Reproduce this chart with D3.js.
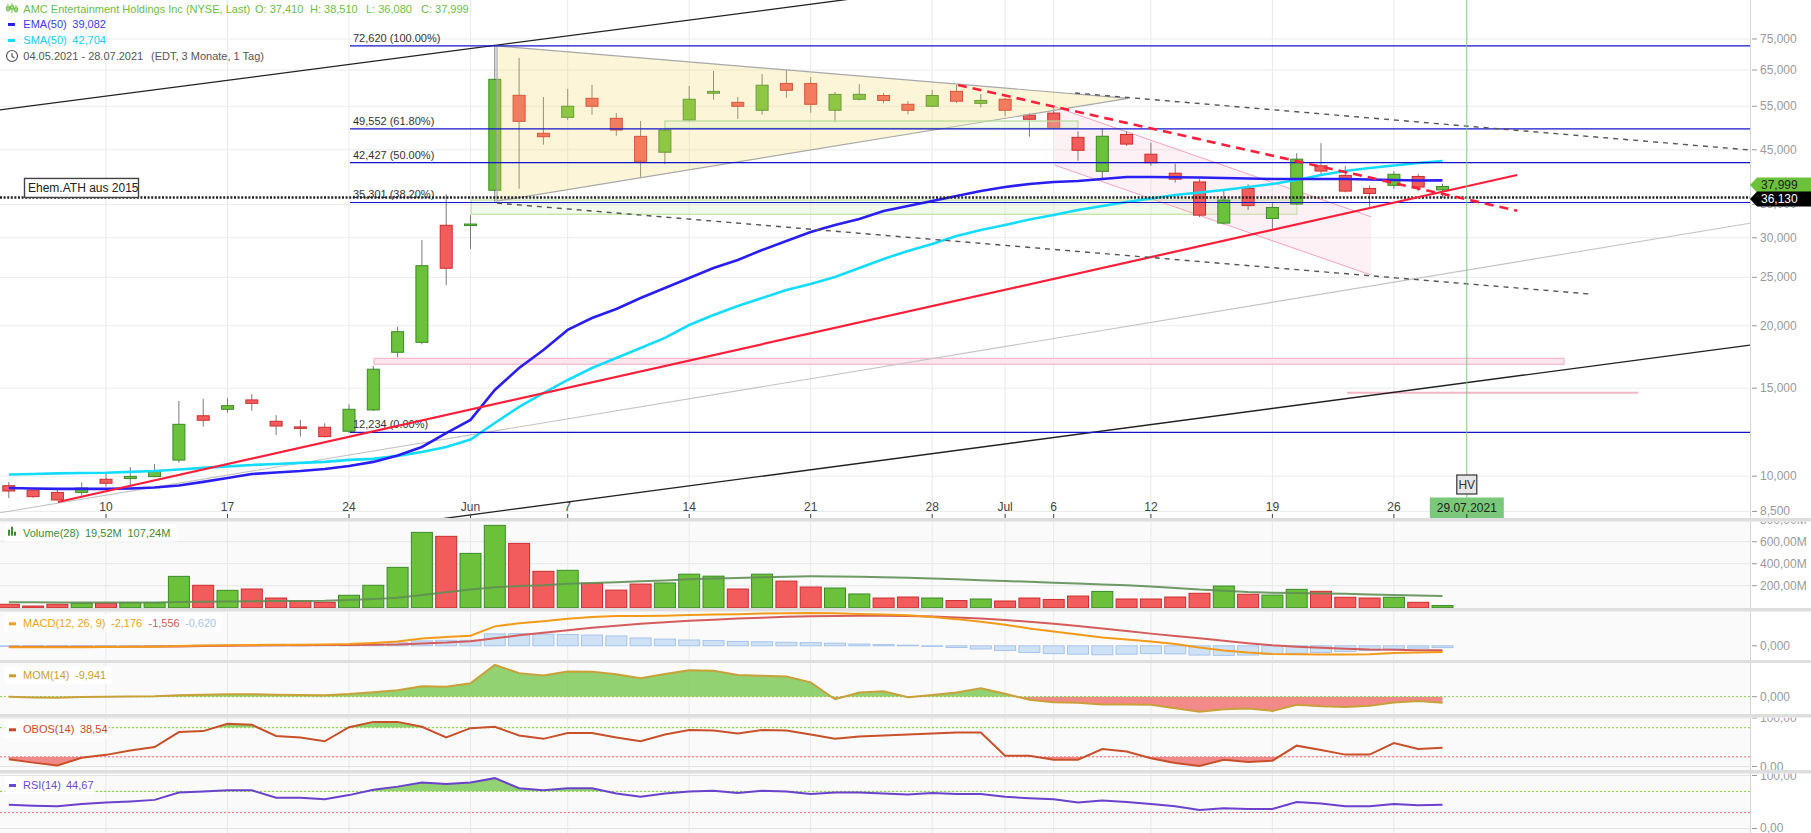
<!DOCTYPE html>
<html><head><meta charset="utf-8">
<script src="https://cdn.jsdelivr.net/npm/d3@7"></script>
<style>
html,body{margin:0;padding:0;background:#fff;overflow:hidden;}
svg{display:block;font-family:"Liberation Sans",Arial,sans-serif;}
</style></head><body>
<svg id="chart" width="1811" height="833"></svg>
<script>
// ---------------- DATA ----------------
const dates = ["04.05","05.05","06.05","07.05","10.05","11.05","12.05","13.05","14.05","17.05","18.05","19.05","20.05","21.05","24.05","25.05","26.05","27.05","28.05",
"01.06","02.06","03.06","04.06","07.06","08.06","09.06","10.06","11.06","14.06","15.06","16.06","17.06","18.06","21.06","22.06","23.06","24.06","25.06","28.06","29.06","30.06",
"01.07","02.07","06.07","07.07","08.07","09.07","12.07","13.07","14.07","15.07","16.07","19.07","20.07","21.07","22.07","23.07","26.07","27.07","28.07"];
const openP  = [9.57,9.38,9.28,9.28,9.86,9.89,9.98,10.77,13.21,13.61,14.21,12.88,12.55,12.53,12.30,13.57,17.70,18.53,31.78,31.78,37.35,57.84,48.56,52.27,57.05,52.03,47.88,44.50,51.60,58.40,56.00,53.99,61.10,61.10,54.00,56.80,57.80,55.50,55.00,58.90,55.75,56.80,52.80,53.30,47.66,40.75,48.30,44.10,40.40,38.80,32.10,37.66,32.80,35.05,41.80,40.00,37.66,38.20,39.80,37.41];
const highP  = [9.74,9.40,9.40,9.72,10.10,10.43,10.58,14.14,14.27,14.32,14.60,13.25,12.96,12.76,13.93,16.62,19.92,29.70,36.70,33.30,72.62,68.70,57.40,59.57,60.67,53.30,51.40,49.50,60.40,64.70,57.40,63.80,64.90,62.90,58.70,60.90,58.50,56.30,59.30,60.70,58.20,57.20,53.30,54.50,49.00,49.60,49.00,46.50,42.20,39.30,37.40,38.40,35.20,44.30,46.40,41.80,38.20,40.80,40.30,38.51];
const lowP   = [9.04,9.05,8.95,9.14,9.53,9.57,9.95,10.64,12.56,13.40,13.52,12.09,12.00,11.95,12.20,13.50,17.30,18.36,24.13,28.50,35.43,37.60,46.10,51.60,52.90,48.00,39.70,42.10,51.20,56.70,51.90,52.90,57.20,53.40,51.10,56.50,55.70,53.00,54.80,55.80,54.70,52.60,47.80,49.50,42.80,39.20,45.80,41.80,38.70,33.00,31.90,34.10,31.20,34.90,40.10,37.00,34.60,37.60,37.20,36.08];
const closeP = [9.34,9.10,8.96,9.47,9.68,9.99,10.26,12.70,12.94,13.84,13.99,12.60,12.47,12.00,13.61,16.37,19.46,26.38,26.07,31.96,62.27,51.31,47.80,55.00,55.00,49.30,42.68,49.30,56.80,58.90,55.00,60.60,59.20,55.50,58.10,58.10,56.50,54.00,57.80,56.30,56.50,54.00,51.80,49.80,44.90,47.90,46.20,42.40,39.30,33.30,35.70,34.80,34.50,43.10,40.80,37.20,36.80,40.20,37.90,37.999];
const ema50  = [9.47,9.45,9.43,9.43,9.43,9.45,9.49,9.58,9.74,9.92,10.10,10.17,10.24,10.34,10.48,10.68,11.00,11.44,12.20,12.96,14.88,16.46,17.89,19.62,20.73,21.61,22.73,23.81,24.93,26.10,27.08,28.36,29.56,30.82,31.82,32.71,33.94,34.73,35.54,36.37,37.22,37.91,38.44,38.79,38.97,39.34,39.70,39.70,39.65,39.61,39.52,39.43,39.34,39.34,39.34,39.34,39.25,39.16,39.07,39.082];
const sma50  = [10.08,10.10,10.13,10.15,10.16,10.20,10.24,10.31,10.39,10.46,10.53,10.58,10.63,10.68,10.78,10.83,10.98,11.18,11.44,11.84,12.78,13.76,14.67,15.58,16.46,17.24,18.05,18.91,20.07,21.02,21.91,22.73,23.59,24.25,25.04,26.10,27.21,28.23,29.16,30.25,31.10,31.82,32.64,33.32,34.10,34.73,35.38,35.96,36.54,36.96,37.39,37.91,38.44,39.16,40.06,40.81,41.37,41.85,42.34,42.704];
const volumeM = [31,15,31,40,40,45,45,285,204,158,170,88,61,49,113,204,367,685,649,494,749,585,331,340,222,160,215,225,305,287,170,305,242,188,179,125,88,97,88,65,79,61,88,75,106,148,79,79,97,131,197,122,115,167,149,95,88,95,49,19.52];
const volumeMA = [49,49,48,48,48,48,48,52,55,57,59,60,61,63,70,78,91,115,140,165,185,198,205,217,225,232,240,248,258,265,270,276,282,285,284,282,278,272,265,258,250,243,236,228,220,212,205,192,180,165,155,143,137,133,130,126,120,115,111,107.24];
const macdLine = [-0.5,-0.5,-0.5,-0.5,-0.4,-0.35,-0.3,-0.1,0.1,0.2,0.3,0.35,0.4,0.45,0.6,1.0,1.5,2.5,3.0,3.5,6.7,7.8,8.5,9.3,9.9,10.3,10.3,10.4,10.6,10.8,10.9,11.1,11.2,11.3,11.2,11.0,10.8,10.5,9.9,9.2,8.3,7.3,6.0,4.9,3.9,2.9,2.2,1.5,0.6,-0.6,-1.6,-2.3,-2.8,-2.9,-3.0,-3.0,-2.9,-2.5,-2.3,-2.176];
const macdSignal = [-0.3,-0.3,-0.3,-0.3,-0.3,-0.3,-0.25,-0.2,-0.1,0.0,0.1,0.15,0.2,0.25,0.3,0.35,0.45,0.8,1.1,1.6,2.6,3.6,4.5,5.4,6.2,6.9,7.6,8.1,8.6,9.0,9.4,9.7,10.0,10.2,10.3,10.4,10.4,10.3,10.1,9.8,9.4,8.9,8.3,7.6,6.8,6.0,5.1,4.2,3.4,2.6,1.7,0.9,0.2,-0.3,-0.7,-1.0,-1.3,-1.4,-1.5,-1.556];
const macdHist = [-0.2,-0.2,-0.2,-0.2,-0.1,-0.05,-0.05,0.1,0.2,0.2,0.2,0.2,0.2,0.2,0.3,0.65,1.05,1.7,1.9,1.9,4.1,4.2,4.0,3.9,3.7,3.4,2.7,2.3,2.0,1.8,1.5,1.4,1.2,1.1,0.9,0.6,0.4,0.2,-0.2,-0.6,-1.1,-1.6,-2.3,-2.7,-2.9,-3.1,-2.9,-2.7,-2.8,-3.2,-3.3,-3.2,-3.0,-2.6,-2.3,-2.0,-1.6,-1.1,-0.8,-0.62];
const mom14 = [0,-1.2,-1.6,-0.5,0,0.3,0.6,2.5,3.0,3.8,4.0,3.0,2.8,2.5,4.3,7.3,10.5,16.9,16.4,22.0,52.0,38.6,34.9,41.2,41.0,36.7,30.2,37.3,43.2,42.5,35.5,34.2,33.1,23.5,-4.2,6.8,8.7,-1.0,2.8,7.0,13.8,4.7,-5.0,-9.1,-10.1,-12.7,-13.0,-13.1,-18.8,-24.8,-20.8,-19.2,-23.3,-13.2,-15.7,-16.8,-15.0,-9.6,-7.0,-9.941];
const obos14 = [15,8,2,18,24,33,40,71,73,88,86,63,60,52,81,92,92,82,60,79,82,64,57,69,69,60,52,66,75,74,68,75,74,66,57,62,64,66,68,70,70,22,22,14,14,36,31,17,7,1,14,9.5,12,43,34,24.5,24.5,48.5,36,38.54];
const rsi14 = [45,43,42,46,49,51,54,68,70,72,72,58,58,55,63,73,79,87,84,87,95,76,72,76,76,66,60,66,70,71,67,71,70,65,68,68,66,64,67,65,65,60,57,55,49,53,50,46,42,35,38,37,37,50,47,42,42,46,44,44.67];

const xTickDates  = ["10.05","17.05","24.05","01.06","07.06","14.06","21.06","28.06","01.07","06.07","12.07","19.07","26.07"];
const xTickLabels = ["10","17","24","Jun","7","14","21","28","Jul","6","12","19","26"];
const priceTicks = [8.5,10,15,20,25,30,35,45,55,65,75];
const volTicks = [200,400,600,800];
const fibLevels = [72.62,49.552,42.427,35.301,12.234];
const fibPcts = ["100.00%","61.80%","50.00%","38.20%","0.00%"];
const fibStartIdx = 14.04;
const athLevel = 36.13;
const hvDate = "29.07.2021";
// drawn trendlines / zones: [index, price]
const lineTop = [[-0.5,53.96],[40,97.5]];
const lineBottom = [[17.745,8.21],[71.65,18.30]];
const lineGrey = [[-0.362,8.45],[71.65,32.07]];
const lineRedUp = [[2.025,8.88],[62.07,40.06]];
const lineRedDash = [[39.06,60.67],[62.07,33.99]];
const lineDashUpper = [[43.88,58.45],[71.65,44.96]];
const lineDashLower = [[20.09,35.2],[65.07,23.15]];
const triangle = [[20.09,72.62],[46.06,57.05],[20.09,35.53]];
const channel = [[43.03,54.9],[56.06,33.06],[56.06,25.27],[43.03,41.95]];
const zoneGreen1 = [[27.0,51.39],[44.0,49.69]];
const zoneGreen2 = [[19.03,35.7],[53.01,33.43]];
const zonePink = [[15.03,17.21],[64.0,16.75]];
const linePink = [[55.07,14.69],[67.05,14.69]];

// ---------------- LAYOUT ----------------
const R = 1750;
const P = {
  main:{t:0,b:518}, vol:{t:521.5,b:608}, macd:{t:611.5,b:660},
  mom:{t:663,b:714}, obos:{t:717.5,b:770}, rsi:{t:773.5,b:833}
};
const svg = d3.select("#chart");
const defs = svg.append("defs");
const n = dates.length;
const x = d3.scaleLinear().domain([0,n-1]).range([8.8, 8.8+24.3*(n-1)]);
const yP = d3.scaleLog().domain([8.247,89.75]).range([518,0]);
const yV = d3.scaleLinear().domain([0,784]).range([607.7,521.5]);
const yM = d3.scaleLinear().domain([-4.9,11.97]).range([660,611.1]);
const yMo = d3.scaleLinear().domain([-28.4,55.2]).range([714,663]);
const yO = d3.scaleLinear().domain([0,100]).range([766.5,718]);
const yR = d3.scaleLinear().domain([0,100]).range([828.5,775.5]);
const tickIdx = xTickDates.map(d=>dates.indexOf(d));
const fmt3 = v=>v.toFixed(3).replace('.',',');
const fmt2 = v=>v.toFixed(2).replace('.',',');

// backgrounds
svg.append("rect").attr("width",1811).attr("height",833).attr("fill","#fff");
["vol","macd","mom","obos","rsi"].forEach(k=>{
  svg.append("rect").attr("x",0).attr("y",P[k].t).attr("width",R).attr("height",P[k].b-P[k].t).attr("fill","#fafafa");
});
function clip(id,p){
  defs.append("clipPath").attr("id",id).append("rect").attr("x",0).attr("y",p.t).attr("width",R).attr("height",p.b-p.t);
  return svg.append("g").attr("clip-path",`url(#${id})`);
}
// vertical grid all panels
Object.keys(P).forEach(k=>{
  tickIdx.forEach(i=>svg.append("line").attr("x1",x(i)).attr("x2",x(i)).attr("y1",P[k].t).attr("y2",P[k].b).attr("stroke","#e9e9e9"));
});

// ---------------- MAIN PANEL ----------------
const gM = clip("cMain",P.main);
priceTicks.forEach(t=>gM.append("line").attr("x1",0).attr("x2",R).attr("y1",yP(t)).attr("y2",yP(t)).attr("stroke","#ebebeb"));
const pt = d=>[x(d[0]),yP(d[1])];
function zone(z,fill,stroke){
  const a=pt(z[0]),b=pt(z[1]);
  gM.append("rect").attr("x",a[0]).attr("y",Math.min(a[1],b[1])).attr("width",b[0]-a[0]).attr("height",Math.abs(b[1]-a[1]))
    .attr("fill",fill).attr("stroke",stroke).attr("stroke-width",1.2);
}
zone(zoneGreen2,"rgba(215,238,195,0.35)","#bfe2a4");
zone(zonePink,"#fde6ee","#f6b6ca");
gM.append("polygon").attr("points",channel.map(pt).map(p=>p.join(",")).join(" "))
  .attr("fill","rgba(248,200,216,0.25)").attr("stroke","none");
gM.append("line").attr("x1",pt(channel[0])[0]).attr("y1",pt(channel[0])[1]).attr("x2",pt(channel[1])[0]).attr("y2",pt(channel[1])[1]).attr("stroke","#f4a2bd").attr("stroke-width",1);
gM.append("line").attr("x1",pt(channel[3])[0]).attr("y1",pt(channel[3])[1]).attr("x2",pt(channel[2])[0]).attr("y2",pt(channel[2])[1]).attr("stroke","#f4a2bd").attr("stroke-width",1);
function seg(l,stroke,w,dash){
  const a=pt(l[0]),b=pt(l[1]);
  const s=gM.append("line").attr("x1",a[0]).attr("y1",a[1]).attr("x2",b[0]).attr("y2",b[1]).attr("stroke",stroke).attr("stroke-width",w);
  if(dash) s.attr("stroke-dasharray",dash);
  return s;
}
seg(linePink,"#f7b4c6",2);
seg(lineGrey,"#c4c4c4",1.1);
seg(lineBottom,"#222",1.3);
seg(lineTop,"#222",1.3);

// candles
const up = i=>closeP[i]>=openP[i];
const gC = gM.append("g");
dates.forEach((d,i)=>{
  const cx=x(i);
  gC.append("line").attr("x1",cx).attr("x2",cx).attr("y1",yP(highP[i])).attr("y2",yP(lowP[i])).attr("stroke","#7a7a7a").attr("stroke-width",1);
  const y1=yP(Math.max(openP[i],closeP[i])), y2=yP(Math.min(openP[i],closeP[i]));
  gC.append("rect").attr("x",cx-6).attr("y",y1).attr("width",12).attr("height",Math.max(1.5,y2-y1))
    .attr("fill",up(i)?"#6cc13a":"#f25c5c").attr("stroke",up(i)?"#3a8a28":"#cc2e2e").attr("stroke-width",1);
});
// triangle overlay
gM.append("polygon").attr("points",triangle.map(pt).map(p=>p.join(",")).join(" "))
  .attr("fill","rgba(247,215,99,0.25)").attr("stroke","#a8a8a8").attr("stroke-width",1.2);
zone(zoneGreen1,"rgba(215,238,195,0.3)","#b6dc98");

// EMA / SMA
const lineGen = d3.line().x((d,i)=>x(i)).y(d=>yP(d));
gM.append("path").datum(sma50).attr("d",lineGen).attr("fill","none").attr("stroke","#14dcff").attr("stroke-width",2.6);
gM.append("path").datum(ema50).attr("d",lineGen).attr("fill","none").attr("stroke","#2a1ef2").attr("stroke-width",2.6);

// fib lines
fibLevels.forEach((f,k)=>{
  gM.append("line").attr("x1",x(fibStartIdx)).attr("x2",R).attr("y1",yP(f)).attr("y2",yP(f)).attr("stroke","#1414cc").attr("stroke-width",1.2);
  gM.append("text").attr("x",x(fibStartIdx)+3).attr("y",yP(f)-4).attr("font-size",11).attr("fill","#333")
    .text(fmt3(f)+" ("+fibPcts[k]+")");
});
// dotted ATH line
gM.append("line").attr("x1",0).attr("x2",R).attr("y1",yP(athLevel)).attr("y2",yP(athLevel)).attr("stroke","#222").attr("stroke-width",2.6).attr("stroke-dasharray","2,1.6");
// red + dashed lines
seg(lineRedUp,"#ff1f3a",2.2);
seg(lineRedDash,"#ff1f3a",2.6,"9,6");
seg(lineDashUpper,"#555",1.4,"5,5");
seg(lineDashLower,"#555",1.4,"5,5");

// ATH box
const athY = yP(athLevel);
gM.append("rect").attr("x",24.5).attr("y",athY-19).attr("width",114).attr("height",19).attr("fill","#fff").attr("stroke","#444").attr("stroke-width",1.4);
gM.append("text").attr("x",28).attr("y",athY-5).attr("font-size",12).attr("fill","#222").text("Ehem.ATH aus 2015");

// HV vertical
const hx = x(n);
gM.append("line").attr("x1",hx).attr("x2",hx).attr("y1",0).attr("y2",498).attr("stroke","#7cc97c").attr("stroke-width",1);

// x axis labels
tickIdx.forEach((i,k)=>{
  gM.append("text").attr("x",x(i)).attr("y",511).attr("text-anchor","middle").attr("font-size",12).attr("fill","#444").text(xTickLabels[k]);
  gM.append("line").attr("x1",x(i)).attr("x2",x(i)).attr("y1",514).attr("y2",518).attr("stroke","#444");
});
gM.append("rect").attr("x",hx-10).attr("y",475).attr("width",20).attr("height",19).attr("fill","#e6e6e6").attr("stroke","#333").attr("stroke-width",1.2);
gM.append("text").attr("x",hx).attr("y",489).attr("text-anchor","middle").attr("font-size",12).attr("fill","#333").text("HV");
gM.append("rect").attr("x",hx-37).attr("y",497.5).attr("width",74).attr("height",22).attr("fill","#7ac97a");
gM.append("text").attr("x",hx).attr("y",512).attr("text-anchor","middle").attr("font-size",12).attr("fill","#222").text(hvDate);
gM.append("line").attr("x1",hx).attr("x2",hx).attr("y1",514).attr("y2",518).attr("stroke","#333");

// ---------------- VOLUME ----------------
const gVo = clip("cVol",P.vol);
volTicks.forEach(t=>gVo.append("line").attr("x1",0).attr("x2",R).attr("y1",yV(t)).attr("y2",yV(t)).attr("stroke","#e6e6e6"));
volumeM.forEach((v,i)=>{
  gVo.append("rect").attr("x",x(i)-10.5).attr("y",yV(v)).attr("width",21).attr("height",yV(0)-yV(v))
    .attr("fill",up(i)?"#6cc13a":"#f25c5c").attr("stroke",up(i)?"#3a8a28":"#cc2e2e").attr("stroke-width",1);
});
gVo.append("path").datum(volumeMA).attr("d",d3.line().x((d,i)=>x(i)).y(d=>yV(d))).attr("fill","none").attr("stroke","#5f8f55").attr("stroke-width",2).attr("opacity",0.9);

// ---------------- MACD ----------------
const gMa = clip("cMacd",P.macd);
macdHist.forEach((h,i)=>{
  gMa.append("rect").attr("x",x(i)-10.5).attr("y",Math.min(yM(0),yM(h))).attr("width",21).attr("height",Math.abs(yM(h)-yM(0)))
    .attr("fill","#cfe1f5").attr("stroke","#a6c4ea").attr("stroke-width",1);
});
gMa.append("path").datum(macdSignal).attr("d",d3.line().x((d,i)=>x(i)).y(d=>yM(d))).attr("fill","none").attr("stroke","#d45c5c").attr("stroke-width",2);
gMa.append("path").datum(macdLine).attr("d",d3.line().x((d,i)=>x(i)).y(d=>yM(d))).attr("fill","none").attr("stroke","#f39a1a").attr("stroke-width",2);

// threshold fills
function tfill(g,data,ys,thr,above,color,p,id){
  const t=ys(thr);
  const r=defs.append("clipPath").attr("id",id).append("rect").attr("x",0).attr("width",R);
  if(above) r.attr("y",p.t).attr("height",t-p.t); else r.attr("y",t).attr("height",p.b-t);
  g.append("path").datum(data).attr("d",d3.area().x((d,i)=>x(i)).y0(t).y1(d=>ys(d)))
    .attr("fill",color).attr("clip-path",`url(#${id})`);
}
// ---------------- MOM ----------------
const gMo = clip("cMom",P.mom);
tfill(gMo,mom14,yMo,0,true,"rgba(120,200,80,0.8)",P.mom,"mA");
tfill(gMo,mom14,yMo,0,false,"rgba(240,110,110,0.8)",P.mom,"mB");
gMo.append("line").attr("x1",0).attr("x2",R).attr("y1",yMo(0)).attr("y2",yMo(0)).attr("stroke","#8cc84b").attr("stroke-dasharray","2,2");
gMo.append("path").datum(mom14).attr("d",d3.line().x((d,i)=>x(i)).y(d=>yMo(d))).attr("fill","none").attr("stroke","#c9a13a").attr("stroke-width",2);

// ---------------- OBOS ----------------
const gOb = clip("cObos",P.obos);
[0,100].forEach(t=>gOb.append("line").attr("x1",0).attr("x2",R).attr("y1",yO(t)).attr("y2",yO(t)).attr("stroke","#e3e3e3"));
tfill(gOb,obos14,yO,80,true,"rgba(120,200,80,0.8)",P.obos,"oA");
tfill(gOb,obos14,yO,20,false,"rgba(240,110,110,0.8)",P.obos,"oB");
gOb.append("line").attr("x1",0).attr("x2",R).attr("y1",yO(80)).attr("y2",yO(80)).attr("stroke","#8cc84b").attr("stroke-dasharray","2,2");
gOb.append("line").attr("x1",0).attr("x2",R).attr("y1",yO(20)).attr("y2",yO(20)).attr("stroke","#f07070").attr("stroke-dasharray","2,2");
gOb.append("path").datum(obos14).attr("d",d3.line().x((d,i)=>x(i)).y(d=>yO(d))).attr("fill","none").attr("stroke","#c8502a").attr("stroke-width",2);

// ---------------- RSI ----------------
const gRs = clip("cRsi",P.rsi);
[0,100].forEach(t=>gRs.append("line").attr("x1",0).attr("x2",R).attr("y1",yR(t)).attr("y2",yR(t)).attr("stroke","#e3e3e3"));
tfill(gRs,rsi14,yR,70,true,"rgba(120,200,80,0.8)",P.rsi,"rA");
gRs.append("line").attr("x1",0).attr("x2",R).attr("y1",yR(70)).attr("y2",yR(70)).attr("stroke","#8cc84b").attr("stroke-dasharray","2,2");
gRs.append("line").attr("x1",0).attr("x2",R).attr("y1",yR(30)).attr("y2",yR(30)).attr("stroke","#f07070").attr("stroke-dasharray","2,2");
gRs.append("path").datum(rsi14).attr("d",d3.line().x((d,i)=>x(i)).y(d=>yR(d))).attr("fill","none").attr("stroke","#6a42cc").attr("stroke-width",2);

// ---------------- RIGHT AXES ----------------
svg.append("line").attr("x1",R+0.5).attr("x2",R+0.5).attr("y1",0).attr("y2",833).attr("stroke","#d4d4d4");
function axGroup(id,p){
  defs.append("clipPath").attr("id",id).append("rect").attr("x",R).attr("y",p.t).attr("width",1811-R).attr("height",p.b-p.t);
  return svg.append("g").attr("clip-path",`url(#${id})`);
}
function axLabel(g,y,txt){
  g.append("line").attr("x1",R+2).attr("x2",R+7).attr("y1",y).attr("y2",y).attr("stroke","#999");
  g.append("text").attr("x",R+10).attr("y",y+4).attr("font-size",12).attr("fill","#9a9a9a").text(txt);
}
const aMain = axGroup("aMain",P.main), aVol = axGroup("aVol",P.vol), aMacd = axGroup("aMacd",P.macd),
      aMom = axGroup("aMom",P.mom), aObos = axGroup("aObos",P.obos), aRsi = axGroup("aRsi",P.rsi);
priceTicks.forEach(t=>axLabel(aMain,yP(t),fmt3(t)));
volTicks.forEach(t=>axLabel(aVol,yV(t),fmt2(t)+"M"));
axLabel(aMacd,yM(0),fmt3(0));
axLabel(aMom,yMo(0),fmt3(0));
[0,100].forEach(t=>axLabel(aObos,yO(t),fmt2(t)));
axLabel(aRsi,yR(100),fmt2(100));
aRsi.append("line").attr("x1",R+2).attr("x2",R+7).attr("y1",yR(0)).attr("y2",yR(0)).attr("stroke","#999");
aRsi.append("text").attr("x",R+10).attr("y",yR(0)+3).attr("font-size",12).attr("fill","#9a9a9a").text(fmt2(0));

// price tags
function tag(v,bg,fg,dy){
  const y=yP(v)+dy;
  svg.append("path").attr("d",`M${R},${y} L${R+7},${y-7.5} L1811,${y-7.5} L1811,${y+7.5} L${R+7},${y+7.5} Z`).attr("fill",bg);
  svg.append("text").attr("x",R+11).attr("y",y+4.5).attr("font-size",12).attr("fill",fg).text(fmt3(v));
}
tag(closeP[n-1],"#6cc13a","#222",-1.5);
tag(athLevel,"#000","#fff",1.5);

// separators
[[518,521.5],[608,611.5],[660,663],[714,717.5],[770,773.5]].forEach(s=>
  svg.append("rect").attr("x",0).attr("y",s[0]).attr("width",1811).attr("height",s[1]-s[0]).attr("fill","#dedede"));

// ---------------- LEGENDS ----------------
const L = svg.append("g").attr("font-size",11);
[[8,4,12,7,10],[12,3,13,6,9],[16,5,13,8,11]].forEach(c=>{
  L.append("line").attr("x1",c[0]).attr("x2",c[0]).attr("y1",c[1]).attr("y2",c[2]).attr("stroke","#6cbe45");
  L.append("rect").attr("x",c[0]-1.5).attr("y",c[3]).attr("width",3).attr("height",c[4]-c[3]).attr("fill","none").attr("stroke","#6cbe45").attr("stroke-width",1);
});
const hdr = L.append("text").attr("y",13).attr("fill","#6cbe45");
hdr.append("tspan").attr("x",23.3).text("AMC Entertainment Holdings Inc (NYSE, Last)");
hdr.append("tspan").attr("x",255).text("O: "+fmt3(openP[n-1]));
hdr.append("tspan").attr("x",310).text("H: "+fmt3(highP[n-1]));
hdr.append("tspan").attr("x",366).text("L: "+fmt3(lowP[n-1]));
hdr.append("tspan").attr("x",421).text("C: "+fmt3(closeP[n-1]));
L.append("rect").attr("x",8).attr("y",23).attr("width",7).attr("height",3).attr("fill","#2a1ef2");
L.append("text").attr("x",23.3).attr("y",28).attr("fill","#3a3af0").text("EMA(50)");
L.append("text").attr("x",72.3).attr("y",28).attr("fill","#3a3af0").text(fmt3(ema50[n-1]));
L.append("rect").attr("x",8).attr("y",39).attr("width",7).attr("height",3).attr("fill","#14dcff");
L.append("text").attr("x",23.3).attr("y",44).attr("fill","#14d0f5").text("SMA(50)");
L.append("text").attr("x",72.3).attr("y",44).attr("fill","#14d0f5").text(fmt3(sma50[n-1]));
L.append("circle").attr("cx",12).attr("cy",56).attr("r",5.5).attr("fill","none").attr("stroke","#555").attr("stroke-width",1.2);
L.append("path").attr("d","M12,53 L12,56.5 L14.5,58").attr("fill","none").attr("stroke","#555").attr("stroke-width",1.2);
L.append("text").attr("x",23.3).attr("y",60).attr("fill","#555").text("04.05.2021 - 28.07.2021");
L.append("text").attr("x",151).attr("y",60).attr("fill","#555").text("(EDT, 3 Monate, 1 Tag)");

function panelLegend(yc,w,parts,iconColor,volIcon){
  L.append("rect").attr("x",4.5).attr("y",yc-9).attr("width",w).attr("height",18).attr("fill","rgba(255,255,255,0.9)");
  if(volIcon){
    [[8,4],[11,7],[14,2]].forEach(b=>L.append("rect").attr("x",b[0]).attr("y",yc+3-b[1]-2).attr("width",2).attr("height",b[1]+2).attr("fill",iconColor));
  } else {
    L.append("rect").attr("x",9).attr("y",yc-1).attr("width",7).attr("height",3).attr("fill",iconColor);
  }
  parts.forEach(p=>L.append("text").attr("x",p[0]).attr("y",yc+4).attr("fill",p[2]).text(p[1]));
}
panelLegend(532.7,172,[[23,"Volume(28)","#3c8c32"],[85,fmt2(volumeM[n-1])+"M","#3c8c32"],[127.5,fmt2(volumeMA[n-1])+"M","#3c8c32"]],"#3c8c32",true);
panelLegend(623.3,218,[[23,"MACD(12, 26, 9)","#f0a020"],[111,fmt3(macdLine[n-1]),"#f0a020"],[148.5,fmt3(macdSignal[n-1]),"#d25a5a"],[185,fmt3(macdHist[n-1]),"#a8c4e4"]],"#f0a020");
panelLegend(675.3,107,[[23,"MOM(14)","#c8a030"],[75,fmt3(mom14[n-1]),"#c8a030"]],"#c8a030");
panelLegend(729.3,104,[[23,"OBOS(14)","#c8482a"],[80,fmt2(obos14[n-1]),"#c8482a"]],"#c8482a");
panelLegend(785,90,[[23,"RSI(14)","#6a4ad0"],[66,fmt2(rsi14[n-1]),"#6a4ad0"]],"#6a4ad0");
</script>
</body></html>
